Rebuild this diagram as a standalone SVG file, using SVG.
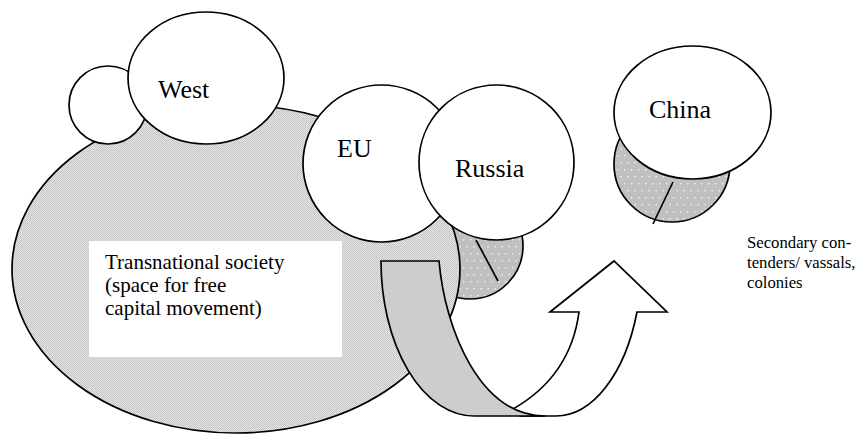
<svg xmlns="http://www.w3.org/2000/svg" width="868" height="435" viewBox="0 0 868 435">
<defs>
<pattern id="checker" width="2" height="2" patternUnits="userSpaceOnUse">
<rect width="2" height="2" fill="#e6e6e6"/>
<rect width="1" height="1" fill="#c4c4c4"/>
<rect x="1" y="1" width="1" height="1" fill="#c4c4c4"/>
</pattern>
<pattern id="dots" width="7" height="14" patternUnits="userSpaceOnUse">
<rect width="7" height="14" fill="#c0c0c0"/>
<rect x="1" y="1" width="1.4" height="1.4" fill="#f4f4f4"/>
<rect x="4.5" y="8" width="1.4" height="1.4" fill="#f4f4f4"/>
</pattern>
</defs>
<style>
.o{stroke:#000;stroke-width:1.7;}
.w{fill:#fff;}
.t{font-family:"Liberation Serif","Times New Roman",serif;fill:#000;}
.big{font-size:26px;}
</style>
<rect width="868" height="435" fill="#fff"/>
<g id="russia-sub">
<circle class="o" cx="470" cy="246" r="53" fill="url(#dots)"/>
<line class="o" x1="476" y1="240" x2="498" y2="281"/>
</g>
<g id="transnational">
<ellipse class="o" cx="236" cy="269" rx="224" ry="164" fill="url(#checker)"/>
</g>
<g id="small-circle">
<circle class="o w" cx="108" cy="105" r="39"/>
</g>
<g id="west">
<ellipse class="o w" cx="206" cy="78" rx="78" ry="66"/>
<text class="t big" x="158" y="98">West</text>
</g>
<g id="eu">
<circle class="o w" cx="381.5" cy="163.5" r="78.5"/>
<text class="t big" x="337" y="157">EU</text>
</g>
<g id="russia">
<circle class="o w" cx="496.5" cy="162.5" r="77.5"/>
<text class="t big" x="455" y="177">Russia</text>
</g>
<g id="china-sub">
<circle class="o" cx="672" cy="164" r="58" fill="url(#dots)"/>
<line class="o" x1="673" y1="182" x2="653" y2="224"/>
</g>
<g id="china">
<ellipse class="o w" cx="692.5" cy="112.5" rx="78.5" ry="66.5"/>
<text class="t big" x="649" y="118">China</text>
</g>
<g id="label-box">
<rect x="89" y="241" width="253" height="116" fill="#fff"/>
<text class="t" font-size="21" x="105"><tspan x="105" y="269">Transnational society</tspan><tspan x="105" y="292">(space for free</tspan><tspan x="105" y="315">capital movement)</tspan></text>
</g>
<g id="connectors">
<path class="o w" stroke-linejoin="miter" d="M 513 409 C 555 385 574 350 579 312 L 550 312 L 614 261 L 667 312 L 637 312 A 86 155 0 0 1 556 416 L 520 416 Z"/>
<path class="o" fill="#cdcdcd" d="M 381 261 L 439 261 C 445 330 480 416 545 416 L 474 416 A 93 155 0 0 1 381 261 Z"/>
</g>
<g id="secondary">
<text class="t" font-size="16.7"><tspan x="747" y="248">Secondary con-</tspan><tspan x="747" y="268">tenders/ vassals,</tspan><tspan x="747" y="288">colonies</tspan></text>
</g>
</svg>
